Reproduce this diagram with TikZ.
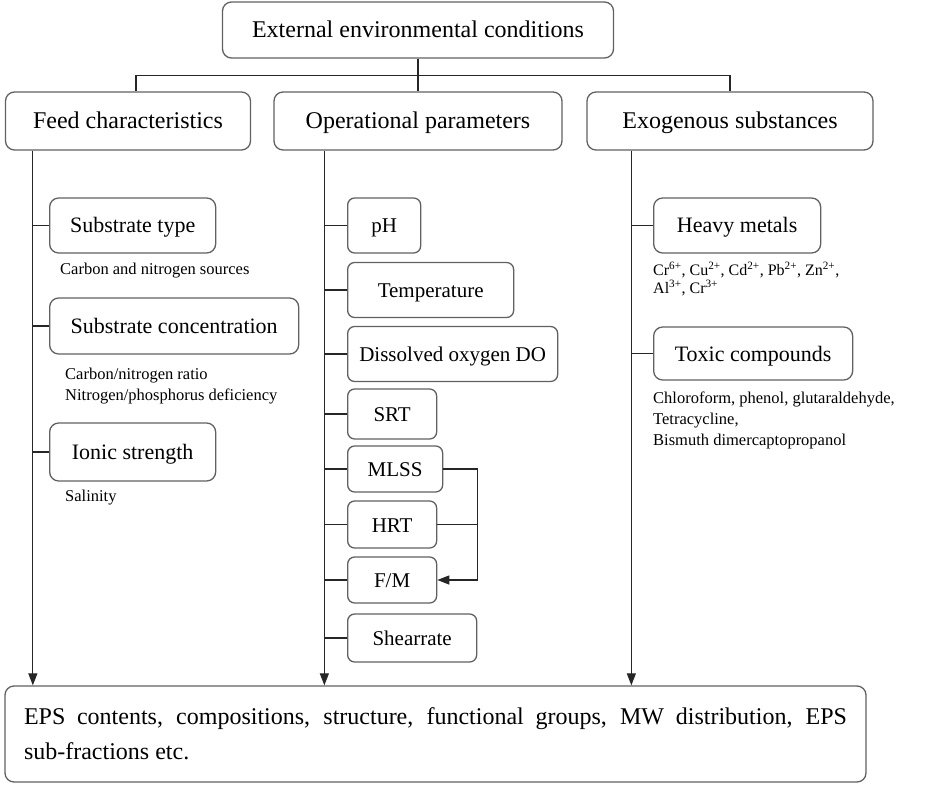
\documentclass[tikz,border=0pt]{standalone}
\usepackage{fontspec}
\setmainfont{Liberation Serif}
\usetikzlibrary{arrows.meta}

\begin{document}
\begin{tikzpicture}[x=1pt,y=-1pt,
    box/.style={draw=black!62,rounded corners=9pt,line width=1.3pt,inner sep=0pt,text height=15.5pt,text depth=0.5pt},
    top/.style={box,font=\fontsize{24}{28}\selectfont},
    sub/.style={box,anchor=west,font=\fontsize{22}{26}\selectfont},
    par/.style={box,anchor=west,rounded corners=7pt,font=\fontsize{21}{25}\selectfont},
    note/.style={anchor=west,inner sep=0pt,align=left,font=\fontsize{16.5}{21}\selectfont},
    link/.style={draw=black!85,line width=1.2pt},
    arr/.style={link,-{Triangle[length=12pt,width=9pt]}}]
\useasboundingbox (0,0) rectangle (928,786);
\node[top,minimum width=391,minimum height=56] (ext) at (418,30) {External environmental conditions};
\node[top,minimum width=245,minimum height=58] (feed) at (128,121) {Feed characteristics};
\node[top,minimum width=288,minimum height=58] (op) at (418,121) {Operational parameters};
\node[top,minimum width=286,minimum height=58] (exo) at (730,121) {Exogenous substances};
\node[box,font=\fontsize{24}{35}\selectfont,minimum width=861,minimum height=96,text width=823,
    align=justify,text height=,text depth=] (eps) at (435.5,734)
    {EPS contents, compositions, structure, functional groups, MW distribution, EPS\linebreak sub-fractions etc.};
\draw[link] (ext.south) -- (op.north);
\draw[link] ([xshift=8pt]feed.north) -- ++(0,-16) -| (exo.north);
\node[sub,minimum width=166,minimum height=55] (st) at (49,225.5) {Substrate type};
\node[sub,minimum width=249,minimum height=56] (sc) at (49,326) {Substrate concentration};
\node[sub,minimum width=166,minimum height=58] (is) at (49,452) {Ionic strength};
\node[note] (n1) at (60,271) {Carbon and nitrogen sources};
\node[note] (n2) at (65,386) {Carbon/nitrogen ratio\\Nitrogen/phosphorus deficiency};
\node[note] (n3) at (65,498) {Salinity};
\node[par,minimum width=73,minimum height=55] (ph) at (347,225.5) {pH};
\node[par,minimum width=166,minimum height=55] (temp) at (347,290) {Temperature};
\node[par,minimum width=210,minimum height=55] (do) at (347,354) {Dissolved oxygen DO};
\node[par,minimum width=89,minimum height=50] (srt) at (347,414) {SRT};
\node[par,minimum width=95,minimum height=46] (mlss) at (347,469) {MLSS};
\node[par,minimum width=89,minimum height=47] (hrt) at (347,524.5) {HRT};
\node[par,minimum width=89,minimum height=46] (fm) at (347,580) {F/M};
\node[par,minimum width=129,minimum height=48] (shear) at (347,638) {Shearrate};
\node[sub,minimum width=167,minimum height=55] (hm) at (653,225.5) {Heavy metals};
\node[sub,minimum width=199,minimum height=53] (tc) at (653,353.5) {Toxic compounds};
\node[note,font=\fontsize{16}{17.5}\selectfont] (n4) at (653,279)
    {Cr\textsuperscript{6+}, Cu\textsuperscript{2+}, Cd\textsuperscript{2+}, Pb\textsuperscript{2+}, Zn\textsuperscript{2+},\\Al\textsuperscript{3+}, Cr\textsuperscript{3+}};
\node[note] (n5) at (653,420) {Chloroform, phenol, glutaraldehyde,\\Tetracycline,\\Bismuth dimercaptopropanol};
\coordinate (ft) at ([xshift=28pt]feed.south west);
\coordinate (ot) at ([xshift=51pt]op.south west);
\coordinate (et) at ([xshift=45pt]exo.south west);
\draw[arr] (ft) -- (ft |- eps.north);
\draw[arr] (ot) -- (ot |- eps.north);
\draw[arr] (et) -- (et |- eps.north);
\foreach \n in {st,sc,is}
  \draw[link] (ft |- \n.west) -- (\n.west);
\foreach \n in {ph,temp,do,srt,mlss,hrt,fm,shear}
  \draw[link] (ot |- \n.west) -- (\n.west);
\foreach \n in {hm,tc}
  \draw[link] (et |- \n.west) -- (\n.west);
\coordinate (br) at ([xshift=34pt]mlss.east);
\draw[arr] (mlss.east) -- (br) |- (fm.east);
\draw[link] (hrt.east) -- (br |- hrt.east);
\end{tikzpicture}
\end{document}
